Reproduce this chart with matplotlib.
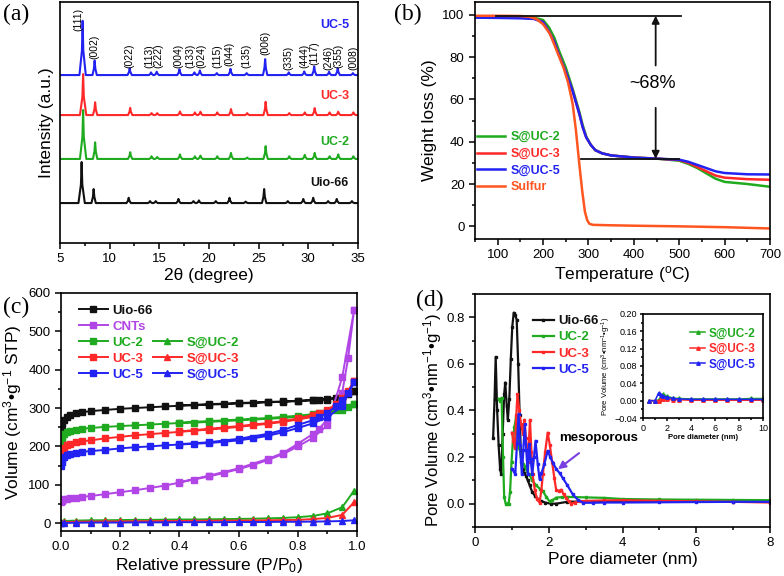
import numpy as np
import matplotlib
matplotlib.use("Agg")
import matplotlib.pyplot as plt
from matplotlib.ticker import AutoMinorLocator, MultipleLocator
from matplotlib.lines import Line2D

plt.rcParams["font.family"] = ["Liberation Sans", "DejaVu Sans"]
plt.rcParams["mathtext.fontset"] = "custom"
plt.rcParams["mathtext.rm"] = "Liberation Sans"
plt.rcParams["mathtext.it"] = "Liberation Sans:italic"
plt.rcParams["mathtext.bf"] = "Liberation Sans:bold"

GREEN = "#1faa1f"
RED = "#ff2828"
BLUE = "#2222f2"
BLACK = "#111111"
ORANGE = "#ff5520"
PURPLE = "#b145e6"

# ---------------- (a) XRD ----------------
xrd_hkl = ["(111)", "(002)", "(022)", "(113)", "(222)", "(004)", "(133)", "(024)", "(115)",
           "(044)", "(135)", "(006)", "(335)", "(444)", "(117)", "(246)", "(355)", "(008)"]
xrd_pos = [7.28, 8.49, 12.02, 14.17, 14.74, 17.03, 18.54, 19.09, 20.79,
           22.17, 23.8, 25.66, 28.04, 29.6, 30.6, 32.1, 32.97, 34.5]
hkl_label_x = [6.9, 8.5, 12.0, 14.0, 14.95, 16.95, 18.15, 19.2, 20.8,
               22.1, 23.8, 25.7, 28.0, 29.6, 30.6, 32.0, 33.05, 34.5]
hkl_label_y = [88, 76.3, 72.6, 72.6, 72.6, 72.6, 72.6, 72.6, 72.6,
               73.5, 72.6, 78, 72, 72.6, 74, 72, 72.6, 72]
xrd_samples = ["Uio-66", "UC-2", "UC-3", "UC-5"]
xrd_offsets = [16.6, 34.9, 53.1, 69.7]
xrd_shift = [-0.1, 0.05, 0.05, 0.0]
h_uio66 = [17.0, 5.8, 2.2, 0.8, 0.8, 1.7, 0.8, 1.1, 0.8, 2.2, 0.6, 5.8, 0.8, 1.7, 2.2, 0.8, 1.7, 0.8]
h_uc2 = [20.3, 6.9, 2.8, 1.1, 0.8, 1.9, 1.1, 1.4, 1.1, 2.5, 0.6, 5.3, 1.1, 1.7, 2.5, 1.1, 1.9, 1.1]
h_uc3 = [17.0, 5.3, 3.0, 0.8, 0.8, 1.5, 1.1, 1.4, 1.1, 2.5, 0.8, 5.5, 0.8, 1.1, 2.9, 1.1, 1.4, 1.1]
h_uc5 = [22.5, 6.0, 2.8, 1.1, 1.4, 2.4, 1.1, 1.9, 0.8, 2.6, 0.8, 6.6, 1.1, 1.5, 3.5, 1.4, 2.8, 0.8]
xrd_label_y = [24.9, 42.0, 61.0, 90.5]

# ---------------- (b) TGA ----------------
t_sulfur = [50, 100, 150, 170, 185, 200, 215, 230, 245, 255, 265, 272, 280, 286, 292, 297, 302, 310,
            350, 400, 500, 600, 700]
w_sulfur = [99.5, 99.5, 99.4, 99.0, 98.0, 95.5, 91.0, 83.0, 75.0, 68.0, 58.0, 46.0, 29.0, 17.0, 7.0,
            3.0, 1.2, 0.7, 0.5, 0.3, 0.0, -0.4, -1.0]
t_suc = [50, 100, 150, 180, 200, 213, 225, 235, 250, 265, 280, 287, 295, 305, 315, 330, 350, 400,
         450, 500, 520, 540, 560, 580, 600, 650, 700]
w_suc2 = [99.2, 99.1, 99.0, 98.6, 97.5, 94.0, 89.0, 83.0, 75.0, 65.0, 54.0, 48.0, 42.5, 38.5, 36.0,
          34.5, 33.5, 32.5, 32.0, 31.0, 29.5, 27.5, 25.0, 22.5, 21.0, 20.0, 18.7]
w_suc3 = [99.0, 98.9, 98.7, 98.2, 96.5, 92.0, 87.0, 81.0, 73.0, 64.0, 53.0, 47.0, 42.0, 38.5, 36.0,
          34.5, 33.5, 32.5, 32.0, 31.3, 30.0, 28.0, 26.0, 24.0, 23.0, 22.3, 22.0]
w_suc5 = [98.6, 98.5, 98.3, 98.0, 96.5, 92.0, 87.0, 81.0, 73.0, 64.0, 53.0, 47.0, 42.0, 38.5, 36.0,
          34.5, 33.5, 32.5, 32.0, 31.5, 30.5, 29.0, 27.5, 26.0, 25.2, 24.6, 24.5]

# ---------------- (c) N2 isotherms ----------------
p_ads = [0.0, 0.002, 0.005, 0.01, 0.02, 0.03, 0.05, 0.07, 0.1, 0.15, 0.2, 0.25, 0.3, 0.35, 0.4,
         0.45, 0.5, 0.55, 0.6, 0.65, 0.7, 0.75, 0.8, 0.85, 0.9, 0.95, 0.99]
p_des = [0.99, 0.97, 0.95, 0.93, 0.9, 0.87, 0.85, 0.8, 0.75, 0.7, 0.6, 0.5, 0.4]
v_uio66_ads = [200, 240, 258, 268, 276, 281, 286, 289, 292, 295, 298, 300, 302, 304, 306, 307, 309,
               310, 312, 313, 315, 316, 318, 320, 322, 328, 345]
v_uio66_des = [345, 336, 330, 327, 324, 322, 321, 319, 317, 316, 313, 310, 307]
v_uc2_ads = [190, 215, 225, 232, 238, 241, 244, 246, 248, 251, 253, 255, 257, 259, 261, 262, 264,
             266, 268, 270, 272, 274, 277, 281, 288, 296, 310]
v_uc2_des = [310, 303, 299, 295, 291, 287, 284, 280, 277, 274, 270, 266, 262]
v_uc3_ads = [165, 180, 190, 196, 203, 207, 211, 213, 216, 221, 225, 229, 232, 235, 238, 241, 244,
             247, 251, 255, 259, 264, 270, 277, 290, 315, 370]
v_uc3_des = [370, 345, 325, 310, 296, 287, 282, 273, 266, 261, 253, 246, 239]
v_uc5_ads = [150, 160, 168, 173, 178, 181, 184, 186, 188, 191, 195, 198, 200, 203, 205, 207, 209,
             212, 216, 221, 228, 237, 248, 260, 276, 305, 368]
v_uc5_des = [368, 340, 320, 305, 288, 276, 268, 256, 243, 233, 220, 211, 206]
v_cnt_ads = [55, 58, 60, 62, 64, 65, 67, 69, 71, 76, 81, 86, 92, 98, 106, 114, 122, 131, 141, 152,
             165, 180, 200, 222, 255, 380, 555]
v_cnt_des = [555, 430, 340, 300, 270, 245, 232, 207, 183, 168, 143, 124, 107]
p_suc = [0.0, 0.01, 0.05, 0.1, 0.15, 0.2, 0.25, 0.3, 0.35, 0.4, 0.45, 0.5, 0.55, 0.6, 0.65, 0.7,
         0.75, 0.8, 0.85, 0.9, 0.95, 0.99]
v_suc2 = [4, 6, 7, 8, 8, 8.5, 9, 9, 9.5, 10, 10, 10.5, 11, 11.5, 12, 13, 14, 16, 19, 26, 42, 85]
v_suc3 = [2, 3, 4, 4.5, 5, 5, 5.5, 5.5, 6, 6, 6.5, 6.5, 7, 7, 7.5, 8, 8.5, 9, 11, 14, 22, 55]
v_suc5 = [0, 1, 1.5, 2, 2, 2, 2.5, 2.5, 2.5, 3, 3, 3, 3, 3.5, 3.5, 3.5, 4, 4, 4.5, 5, 6, 8]

# ---------------- (d) pore size distribution ----------------
d_uio66 = [0.49, 0.53, 0.56, 0.60, 0.64, 0.68, 0.71, 0.75, 0.79, 0.82, 0.86, 0.89, 0.93, 0.97, 1.01,
           1.05, 1.09, 1.13, 1.17, 1.21, 1.25, 1.29, 1.33, 1.38, 1.43, 1.48, 1.55, 1.62, 1.7, 1.78,
           1.9, 2.05, 2.2, 2.5, 3.0, 3.5, 4, 5, 6, 7, 8]
pv_uio66 = [0.28, 0.45, 0.63, 0.40, 0.25, 0.15, 0.126, 0.30, 0.47, 0.52, 0.42, 0.36, 0.45, 0.62, 0.76,
            0.82, 0.81, 0.79, 0.60, 0.38, 0.18, 0.15, 0.13, 0.12, 0.10, 0.08, 0.05, 0.035, 0.02, 0.012,
            0.005, 0.0, 0.0, 0.008, 0.01, 0.01, 0.01, 0.01, 0.01, 0.008, 0.008]
d_uc2 = [0.64, 0.68, 0.72, 0.76, 0.79, 0.83, 0.87, 0.91, 0.95, 0.99, 1.03, 1.07, 1.11, 1.15, 1.2,
         1.25, 1.3, 1.35, 1.4, 1.47, 1.55, 1.65, 1.75, 1.84, 1.93, 2.02, 2.1, 2.2, 2.35, 2.5, 3.0,
         3.5, 4.0, 5, 6, 7, 8]
pv_uc2 = [0.45, 0.44, 0.455, 0.2, 0.03, 0.0, 0.0, 0.0, 0.05, 0.18, 0.28, 0.33, 0.37, 0.30, 0.24,
          0.20, 0.17, 0.16, 0.14, 0.126, 0.10, 0.08, 0.065, 0.054, 0.03, 0.01, 0.015, 0.026, 0.028,
          0.029, 0.027, 0.025, 0.02, 0.018, 0.017, 0.016, 0.015]
d_uc3 = [1.0, 1.04, 1.08, 1.12, 1.15, 1.2, 1.25, 1.3, 1.34, 1.38, 1.43, 1.46, 1.49, 1.53, 1.56, 1.62,
         1.68, 1.75, 1.8, 1.84, 1.9, 1.97, 2.03, 2.09, 2.15, 2.2, 2.27, 2.34, 2.4, 2.47, 2.54, 2.61,
         2.7, 2.84, 3.0, 3.5, 4, 5, 6, 7, 8]
pv_uc3 = [0.305, 0.27, 0.24, 0.38, 0.47, 0.40, 0.34, 0.30, 0.36, 0.28, 0.18, 0.26, 0.36, 0.22, 0.126,
          0.06, 0.02, 0.004, 0.06, 0.126, 0.22, 0.305, 0.25, 0.18, 0.11, 0.06, 0.055, 0.06, 0.04,
          0.026, 0.01, 0.0, 0.005, 0.01, 0.012, 0.014, 0.015, 0.012, 0.01, 0.008, 0.005]
d_uc5 = [1.0, 1.05, 1.09, 1.14, 1.18, 1.22, 1.27, 1.31, 1.35, 1.39, 1.43, 1.47, 1.51, 1.55, 1.6,
         1.64, 1.7, 1.75, 1.8, 1.88, 1.97, 2.04, 2.11, 2.2, 2.3, 2.38, 2.5, 2.65, 2.8, 2.93, 3.2,
         3.5, 4, 5, 6, 7, 8]
pv_uc5 = [0.15, 0.14, 0.126, 0.26, 0.385, 0.25, 0.126, 0.23, 0.34, 0.23, 0.126, 0.255, 0.19, 0.126,
          0.20, 0.27, 0.17, 0.105, 0.13, 0.17, 0.227, 0.20, 0.176, 0.15, 0.13, 0.11, 0.08, 0.04,
          0.015, 0.004, 0.004, 0.005, 0.005, 0.006, 0.007, 0.008, 0.008]
d_inset = [0.5, 1.0, 1.3, 1.5, 1.7, 2.0, 2.5, 3, 4, 5, 6, 7, 8, 9, 10]
pv_suc2 = [0, 0, 0.002, 0.008, 0.015, 0.01, 0.006, 0.005, 0.004, 0.004, 0.004, 0.004, 0.004, 0.005, 0.005]
pv_suc3 = [0, 0, 0, 0.003, 0.004, 0.003, 0.002, 0.002, 0.001, 0.001, 0.001, 0.001, 0.001, 0.001, 0.001]
pv_suc5 = [0, 0, 0.018, 0.013, 0.01, 0.008, 0.005, 0.004, 0.003, 0.003, 0.003, 0.003, 0.003, 0.003, 0.003]

TICK = 9.5
LABEL = 12.5


def style(ax, size=TICK):
    for s in ax.spines.values():
        s.set_linewidth(1.2)
    ax.tick_params(which="both", direction="out", top=False, right=False,
                   labelsize=size, width=1.1)
    ax.tick_params(which="major", length=4)
    ax.tick_params(which="minor", length=2.5)


def xrd_trace(heights, base, shift):
    xs, ys = [5.0], [base]
    for p, h in zip(xrd_pos, heights):
        p = p + shift
        w = 0.32 if h > 10 else 0.22
        xs += [p - w, p - 0.07, p, p + 0.07, p + w]
        ys += [base, base + 0.45 * h, base + h, base + 0.45 * h, base]
    xs.append(35.0)
    ys.append(base)
    return xs, ys


fig = plt.figure(figsize=(7.84, 5.76), dpi=100)

# ---- (a)
ax = fig.add_axes([0.0765, 0.578, 0.380, 0.4185])
colors_a = [BLACK, GREEN, RED, BLUE]
for name, hts, base, sh, c, ly in zip(xrd_samples, [h_uio66, h_uc2, h_uc3, h_uc5], xrd_offsets,
                                      xrd_shift, colors_a, xrd_label_y):
    xs, ys = xrd_trace(hts, base, sh)
    ax.plot(xs, ys, color=c, lw=1.5)
    ax.text(34.1, ly, name, color=c, fontsize=9, fontweight="bold", ha="right", va="center")
for lab, lx, lyy in zip(xrd_hkl, hkl_label_x, hkl_label_y):
    ax.text(lx, lyy, lab, rotation=90, ha="center", va="bottom", fontsize=7.5)
ax.set_xlim(5, 35)
ax.set_ylim(0, 100)
ax.set_yticks([])
ax.xaxis.set_major_locator(MultipleLocator(5))
ax.xaxis.set_minor_locator(AutoMinorLocator(2))
ax.set_xlabel("2θ (degree)", fontsize=LABEL, labelpad=2)
ax.set_ylabel("Intensity (a.u.)", fontsize=LABEL, labelpad=4)
style(ax)

# ---- (b)
ax = fig.add_axes([0.6059, 0.585, 0.3763, 0.4115])
ax.plot(t_suc, w_suc2, color=GREEN, lw=1.8, label="S@UC-2")
ax.plot(t_suc, w_suc3, color=RED, lw=1.8, label="S@UC-3")
ax.plot(t_suc, w_suc5, color=BLUE, lw=1.8, label="S@UC-5")
ax.plot(t_sulfur, w_sulfur, color=ORANGE, lw=1.8, label="Sulfur")
ax.plot([96, 503], [99.5, 99.5], color=BLACK, lw=1.3)
ax.plot([283, 499], [31.9, 31.9], color=BLACK, lw=1.3)
arr = dict(arrowstyle="-|>", color=BLACK, lw=1.3, mutation_scale=11, shrinkA=0, shrinkB=0)
ax.annotate("", xy=(448, 99.5), xytext=(448, 76), arrowprops=arr)
ax.annotate("", xy=(448, 31.9), xytext=(448, 56), arrowprops=arr)
ax.text(442, 67.5, "~68%", fontsize=13, ha="center", va="center")
ax.legend(loc="upper left", bbox_to_anchor=(0.005, 0.455), frameon=False, handlelength=2.3,
          handletextpad=0.4, labelspacing=0.38, borderaxespad=0, borderpad=0,
          labelcolor="linecolor", prop={"weight": "bold", "size": 9})
ax.set_xlim(50, 700)
ax.set_ylim(-6, 106)
ax.xaxis.set_major_locator(MultipleLocator(100))
ax.xaxis.set_minor_locator(AutoMinorLocator(2))
ax.yaxis.set_major_locator(MultipleLocator(20))
ax.yaxis.set_minor_locator(AutoMinorLocator(2))
ax.set_xlabel("Temperature ($^{\\mathrm{o}}$C)", fontsize=LABEL, labelpad=2)
ax.set_ylabel("Weight loss (%)", fontsize=LABEL, labelpad=4)
style(ax)

# ---- (c)
ax = fig.add_axes([0.0778, 0.0781, 0.3776, 0.4137])
series_c = [(v_uio66_ads, v_uio66_des, BLACK, "Uio-66"), (v_cnt_ads, v_cnt_des, PURPLE, "CNTs"),
            (v_uc2_ads, v_uc2_des, GREEN, "UC-2"), (v_uc3_ads, v_uc3_des, RED, "UC-3"),
            (v_uc5_ads, v_uc5_des, BLUE, "UC-5")]
handles = {}
for ads, des, c, name in series_c:
    h, = ax.plot(p_ads + p_des, ads + des, color=c, lw=1.4, marker="s", ms=3.8, label=name)
    handles[name] = h
for v, c, name in [(v_suc2, GREEN, "S@UC-2"), (v_suc3, RED, "S@UC-3"), (v_suc5, BLUE, "S@UC-5")]:
    h, = ax.plot(p_suc, v, color=c, lw=1.4, marker="^", ms=4.2, label=name)
    handles[name] = h
blank = Line2D([], [], linestyle="none")
order = ["Uio-66", "CNTs", "UC-2", "UC-3", "UC-5"]
hl = [handles[n] for n in order] + [blank, blank, handles["S@UC-2"], handles["S@UC-3"], handles["S@UC-5"]]
ll = order + ["", "", "S@UC-2", "S@UC-3", "S@UC-5"]
leg = ax.legend(hl, ll, ncol=2, loc="upper left", bbox_to_anchor=(0.06, 0.95), frameon=False,
                handlelength=2.2, handletextpad=0.35, labelspacing=0.28, columnspacing=0.0,
                borderaxespad=0, borderpad=0, prop={"weight": "bold", "size": 9.5})
for t, h in zip(leg.get_texts(), hl):
    if h is not blank:
        t.set_color(h.get_color())
ax.set_xlim(0, 1.0)
ax.set_ylim(-20, 600)
ax.xaxis.set_major_locator(MultipleLocator(0.2))
ax.xaxis.set_minor_locator(AutoMinorLocator(2))
ax.yaxis.set_major_locator(MultipleLocator(100))
ax.yaxis.set_minor_locator(AutoMinorLocator(2))
ax.set_xlabel("Relative pressure (P/P$_0$)", fontsize=LABEL, labelpad=2)
ax.set_ylabel("Volume (cm$^3$•g$^{-1}$ STP)", fontsize=LABEL, labelpad=3)
style(ax)

# ---- (d)
ax = fig.add_axes([0.6059, 0.0851, 0.3763, 0.4045])
ax.plot(d_uio66, pv_uio66, color=BLACK, lw=1.6, marker="s", ms=1.6, label="Uio-66")
ax.plot(d_uc2, pv_uc2, color=GREEN, lw=1.6, marker="s", ms=1.6, label="UC-2")
ax.plot(d_uc3, pv_uc3, color=RED, lw=1.6, marker="s", ms=1.6, label="UC-3")
ax.plot(d_uc5, pv_uc5, color=BLUE, lw=1.6, marker="s", ms=1.6, label="UC-5")
ax.text(2.27, 0.28, "mesoporous", fontsize=9.5, fontweight="bold", ha="left", va="center")
ax.annotate("", xy=(2.25, 0.148), xytext=(2.82, 0.217),
            arrowprops=dict(arrowstyle="-|>", color="#7a3fe0", lw=1.5, mutation_scale=11,
                            shrinkA=0, shrinkB=0))
ax.legend(loc="upper left", bbox_to_anchor=(0.196, 0.91), frameon=False, handlelength=1.6,
          handletextpad=0.35, labelspacing=0.3, borderaxespad=0, borderpad=0,
          labelcolor="linecolor", prop={"weight": "bold", "size": 9.5})
ax.set_xlim(0, 8)
ax.set_ylim(-0.1, 0.9)
ax.xaxis.set_major_locator(MultipleLocator(2))
ax.xaxis.set_minor_locator(AutoMinorLocator(2))
ax.yaxis.set_major_locator(MultipleLocator(0.2))
ax.yaxis.set_minor_locator(AutoMinorLocator(2))
ax.set_xlabel("Pore diameter (nm)", fontsize=LABEL, labelpad=2)
ax.set_ylabel("Pore Volume (cm$^3$•nm$^{-1}$•g$^{-1}$)", fontsize=12, labelpad=3)
ax.yaxis.set_label_coords(-0.105, 0.46)
style(ax)

# inset
ins = fig.add_axes([0.8202, 0.2743, 0.153, 0.1806])
ins.plot(d_inset, pv_suc2, color=GREEN, lw=1.1, marker="^", ms=2.5, label="S@UC-2")
ins.plot(d_inset, pv_suc3, color=RED, lw=1.1, marker="^", ms=2.5, label="S@UC-3")
ins.plot(d_inset, pv_suc5, color=BLUE, lw=1.1, marker="^", ms=2.5, label="S@UC-5")
ins.legend(loc="upper right", bbox_to_anchor=(0.94, 0.87), frameon=False, handlelength=1.3,
           handletextpad=0.3, labelspacing=0.3, borderaxespad=0, borderpad=0,
           labelcolor="linecolor", prop={"weight": "bold", "size": 8.5})
ins.set_xlim(0, 10)
ins.set_ylim(-0.04, 0.20)
ins.xaxis.set_major_locator(MultipleLocator(2))
ins.xaxis.set_minor_locator(AutoMinorLocator(2))
ins.yaxis.set_major_locator(MultipleLocator(0.04))
ins.yaxis.set_minor_locator(AutoMinorLocator(2))
ins.set_xlabel("Pore diameter (nm)", fontsize=5.5, fontweight="bold", labelpad=1)
ins.set_ylabel("Pore Volume (cm$^3$•nm$^{-1}$•g$^{-1}$)", fontsize=5.5, labelpad=1)
style(ins, size=6.5)
ins.tick_params(which="major", length=2.5, pad=1.5)
ins.tick_params(which="minor", length=1.5)

# panel labels
for lab, x, y in [("(a)", 0.004, 0.993), ("(b)", 0.502, 0.993), ("(c)", 0.004, 0.485),
                  ("(d)", 0.53, 0.497)]:
    fig.text(x, y, lab, fontsize=17, family="Liberation Serif", ha="left", va="top")

fig.savefig("out.png", dpi=100)
